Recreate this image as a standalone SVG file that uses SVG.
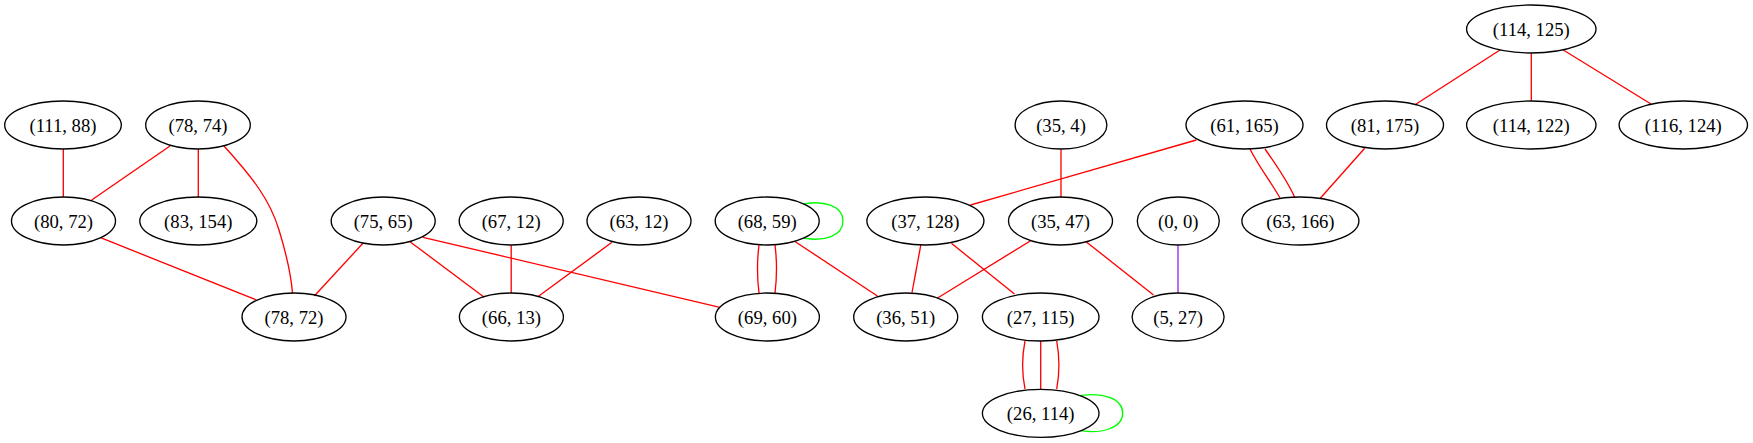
<svg xmlns="http://www.w3.org/2000/svg" width="1753" height="443" viewBox="0 0 1753 443">
<style>
.n ellipse{fill:none;stroke:#000;stroke-width:1.33}
.n text{font-family:"Liberation Serif","Times New Roman",serif;font-size:18.67px;text-anchor:middle;fill:#000}
#edges path,#edges line{fill:none;stroke:#ff0000;stroke-width:1.33}
#edges .g{stroke:#00ff00}
#edges .p{stroke:#a020f0}
</style>
<rect width="1753" height="443" fill="#fff"/>
<g id="edges">
<line x1="63.3" y1="149" x2="63.3" y2="197"/>
<line x1="170" y1="146" x2="91.7" y2="200"/>
<line x1="198.3" y1="149" x2="198.3" y2="197"/>
<path d="M224,146 C253,178 270,200 279,230 C287,256 291,275 292.5,293"/>
<line x1="100.6" y1="237.7" x2="256.4" y2="300"/>
<line x1="362.9" y1="243.3" x2="314.3" y2="296"/>
<line x1="410" y1="241.7" x2="484.2" y2="297.3"/>
<line x1="423" y1="237.3" x2="719.9" y2="307.3"/>
<line x1="511.2" y1="245.3" x2="511.2" y2="293.3"/>
<line x1="612" y1="242.3" x2="537.8" y2="296.7"/>
<path d="M759,245 C757,261 757,277 759,293"/>
<path d="M775,245 C777,261 777,277 775,293"/>
<line x1="795.3" y1="241.7" x2="877.4" y2="296"/>
<path class="g" d="M803.7,204 C824,200 843,206 843,221 C843,236 824,242 803.7,238"/>
<line x1="1196.3" y1="140" x2="970.5" y2="205"/>
<line x1="1061" y1="149.3" x2="1061" y2="197.3"/>
<line x1="920.8" y1="245" x2="912" y2="292.7"/>
<line x1="951.4" y1="243.3" x2="1014.5" y2="294"/>
<line x1="1030.6" y1="240.7" x2="937.2" y2="298.3"/>
<line x1="1086.1" y1="241.7" x2="1153.5" y2="295"/>
<line class="p" x1="1178" y1="245.3" x2="1178" y2="293"/>
<path d="M1250,149 C1259,167 1271,182 1280,198"/>
<path d="M1265,149 C1277,166 1288,182 1295,198"/>
<line x1="1364.7" y1="148.3" x2="1320.3" y2="198.3"/>
<line x1="1500" y1="50" x2="1415" y2="104.7"/>
<line x1="1531.3" y1="53.3" x2="1531.3" y2="100.7"/>
<line x1="1563.3" y1="50" x2="1651" y2="104"/>
<path d="M1025,341 C1022,356 1022,374 1025,389"/>
<line x1="1040.7" y1="341" x2="1040.7" y2="389"/>
<path d="M1056.7,341 C1059.5,356 1059.5,374 1056.7,389"/>
<path class="g" d="M1080.5,395.7 C1102,392 1122.7,398 1122.7,413.3 C1122.7,428 1102,434 1080.5,430.7"/>
</g>
<g id="n111_88" class="n"><ellipse cx="63" cy="125" rx="58.3" ry="24"/><text x="63" y="131.5">(111, 88)</text></g>
<g id="n78_74" class="n"><ellipse cx="198" cy="125" rx="52.3" ry="24"/><text x="198" y="131.5">(78, 74)</text></g>
<g id="n80_72" class="n"><ellipse cx="63.5" cy="221" rx="52" ry="24"/><text x="63.5" y="227.5">(80, 72)</text></g>
<g id="n83_154" class="n"><ellipse cx="198.3" cy="221" rx="58.5" ry="24"/><text x="198.3" y="227.5">(83, 154)</text></g>
<g id="n75_65" class="n"><ellipse cx="383.2" cy="221" rx="52" ry="24"/><text x="383.2" y="227.5">(75, 65)</text></g>
<g id="n67_12" class="n"><ellipse cx="511.2" cy="221" rx="52" ry="24"/><text x="511.2" y="227.5">(67, 12)</text></g>
<g id="n63_12" class="n"><ellipse cx="639" cy="221" rx="52" ry="24"/><text x="639" y="227.5">(63, 12)</text></g>
<g id="n68_59" class="n"><ellipse cx="767.2" cy="221" rx="52" ry="24"/><text x="767.2" y="227.5">(68, 59)</text></g>
<g id="n78_72" class="n"><ellipse cx="294" cy="317" rx="52" ry="24"/><text x="294" y="323.5">(78, 72)</text></g>
<g id="n66_13" class="n"><ellipse cx="511.4" cy="317" rx="52" ry="24"/><text x="511.4" y="323.5">(66, 13)</text></g>
<g id="n69_60" class="n"><ellipse cx="767.4" cy="317" rx="52" ry="24"/><text x="767.4" y="323.5">(69, 60)</text></g>
<g id="n35_4" class="n"><ellipse cx="1061" cy="125" rx="45.9" ry="24"/><text x="1061" y="131.5">(35, 4)</text></g>
<g id="n61_165" class="n"><ellipse cx="1244.5" cy="125" rx="58.5" ry="24"/><text x="1244.5" y="131.5">(61, 165)</text></g>
<g id="n81_175" class="n"><ellipse cx="1385" cy="125" rx="58.5" ry="24"/><text x="1385" y="131.5">(81, 175)</text></g>
<g id="n114_125" class="n"><ellipse cx="1531.3" cy="29" rx="64.7" ry="24"/><text x="1531.3" y="35.5">(114, 125)</text></g>
<g id="n114_122" class="n"><ellipse cx="1531.3" cy="125" rx="64.7" ry="24"/><text x="1531.3" y="131.5">(114, 122)</text></g>
<g id="n116_124" class="n"><ellipse cx="1683.3" cy="125" rx="64.2" ry="24"/><text x="1683.3" y="131.5">(116, 124)</text></g>
<g id="n37_128" class="n"><ellipse cx="925.4" cy="221" rx="58.5" ry="24"/><text x="925.4" y="227.5">(37, 128)</text></g>
<g id="n35_47" class="n"><ellipse cx="1060.5" cy="221" rx="52" ry="24"/><text x="1060.5" y="227.5">(35, 47)</text></g>
<g id="n0_0" class="n"><ellipse cx="1178.3" cy="221" rx="41" ry="24"/><text x="1178.3" y="227.5">(0, 0)</text></g>
<g id="n63_166" class="n"><ellipse cx="1300.4" cy="221" rx="58.5" ry="24"/><text x="1300.4" y="227.5">(63, 166)</text></g>
<g id="n36_51" class="n"><ellipse cx="905.7" cy="317" rx="52" ry="24"/><text x="905.7" y="323.5">(36, 51)</text></g>
<g id="n27_115" class="n"><ellipse cx="1040.7" cy="317" rx="58.3" ry="24"/><text x="1040.7" y="323.5">(27, 115)</text></g>
<g id="n5_27" class="n"><ellipse cx="1178.1" cy="317" rx="46" ry="24"/><text x="1178.1" y="323.5">(5, 27)</text></g>
<g id="n26_114" class="n"><ellipse cx="1040.7" cy="413.3" rx="58.3" ry="24"/><text x="1040.7" y="419.8">(26, 114)</text></g>
</svg>
